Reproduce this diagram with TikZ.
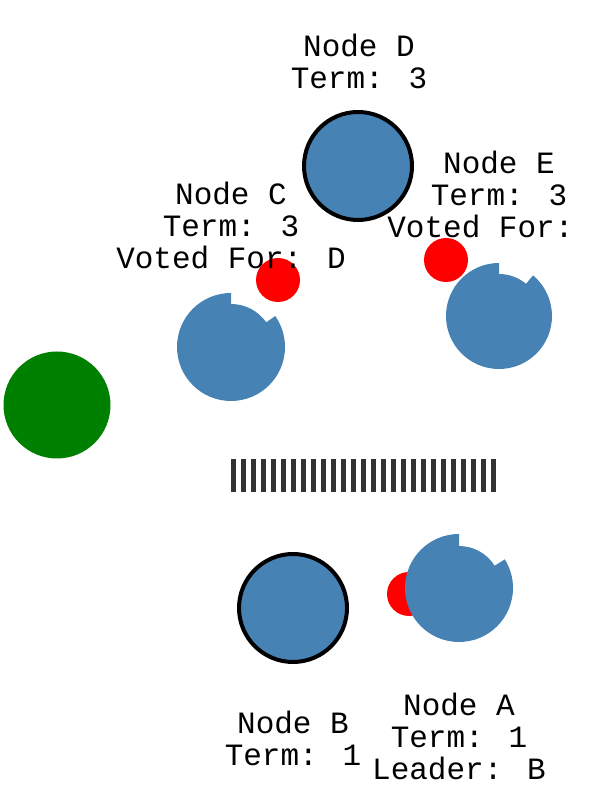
\documentclass[tikz,border=0pt]{standalone}
\usepackage{fontspec}
\newfontfamily\labelfont{Liberation Mono}
\definecolor{nodeblue}{HTML}{4682B4}
\definecolor{nodegreen}{HTML}{008000}
\definecolor{bargray}{HTML}{333333}
\begin{document}
\begin{tikzpicture}[x=1pt,y=1pt,
  bluenode/.style={circle,fill=nodeblue,inner sep=0pt,minimum size=108pt},
  leadnode/.style={circle,fill=nodeblue,draw=black,line width=4pt,inner sep=0pt,minimum size=108pt},
  vote/.style={circle,fill=red,inner sep=0pt,minimum size=44pt},
  lbl/.style={font=\labelfont\fontsize{31}{32}\selectfont,align=center,inner sep=0pt,anchor=base}]
\useasboundingbox (0,0) rectangle (590,790);
% red vote markers behind
\node[vote] (vc) at (278,510) {};
\node[vote] (ve) at (446,530) {};
\node[vote] (va) at (409,196) {};
% leaders with border
\node[leadnode] (nd) at (358,624) {};
\node[leadnode] (nb) at (293,182) {};
% notched followers
\coordinate (cc) at (231,443);
\coordinate (ce) at (499,474);
\coordinate (ca) at (459,202);
\fill[nodeblue] ([shift={(90:54)}]cc) arc[start angle=90,end angle=395,radius=54]
  -- ([shift={(35:43)}]cc) arc[start angle=35,end angle=90,radius=43] -- cycle;
\fill[nodeblue] ([shift={(90:53)}]ce) arc[start angle=90,end angle=410,radius=53]
  -- ([shift={(50:42)}]ce) arc[start angle=50,end angle=90,radius=42] -- cycle;
\fill[nodeblue] ([shift={(90:54)}]ca) arc[start angle=90,end angle=392,radius=54]
  -- ([shift={(32:42)}]ca) arc[start angle=32,end angle=90,radius=42] -- cycle;
% green circle
\node[circle,fill=nodegreen,inner sep=0pt,minimum size=107pt] (ng) at (57,385) {};
% partition bar
\coordinate (bl) at (231,314.5);
\coordinate (br) at (496,314.5);
\draw[bargray,line width=32.5pt,dash pattern=on 5pt off 5pt] (bl) -- (br);
% labels
\node[lbl] (ld) at (359,701) {Node D\\Term: 3};
\node[lbl] (lc) at (231,521) {Node C\\Term: 3\\Voted For: D};
\node[lbl] (le) at (499,552) {Node E\\Term: 3\\Voted For:~\phantom{D}};
\node[lbl] (lb) at (293,24) {Node B\\Term: 1};
\node[lbl] (la) at (459,10) {Node A\\Term: 1\\Leader: B};
\end{tikzpicture}
\end{document}
